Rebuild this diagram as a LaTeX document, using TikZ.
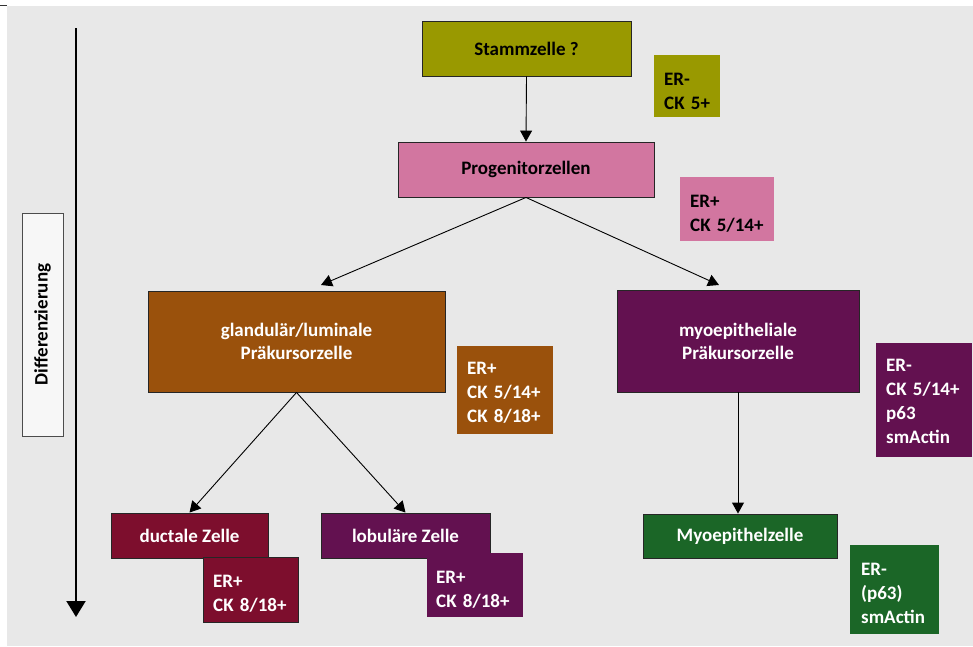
\documentclass[tikz,border=0pt]{standalone}
\usepackage{fontspec}
\setmainfont{Carlito}
\usetikzlibrary{arrows.meta}
\definecolor{bgc}{HTML}{E8E8E8}
\definecolor{olivec}{HTML}{999900}
\definecolor{pinkc}{HTML}{D276A0}
\definecolor{brownc}{HTML}{9A510C}
\definecolor{purplec}{HTML}{631150}
\definecolor{greenc}{HTML}{1B6627}
\definecolor{redc}{HTML}{7D0E2D}
\definecolor{diffc}{HTML}{F7F7F7}
\begin{document}
\begin{tikzpicture}[x=1pt,y=-1pt,
  txt/.style={font=\bfseries\fontsize{19}{23}\selectfont},
  cellbox/.style={txt,draw=black!85,line width=0.9pt,inner sep=0pt,align=center},
  markbox/.style={anchor=north west,inner sep=0pt},
  marktext/.style={font=\bfseries\fontsize{19}{24}\selectfont,anchor=base west,inner sep=0pt,align=left,text width=80pt},
  conn/.style={line width=0.9pt,-{Triangle[width=12pt,length=11pt]}}]
\useasboundingbox (0,0) rectangle (973,646);
\fill[bgc] (7,6) rectangle (973,646);
\draw[black!80,line width=1.2pt] (0,5.5) -- (7,5.5);

% differentiation axis
\node[txt,draw=black!70,line width=0.8pt,fill=diffc,rotate=90,minimum width=223pt,minimum height=41pt,inner sep=0pt] (diff) at (42.5,324.5) {Differenzierung};
\coordinate (a0) at (76,28);
\coordinate (a1) at (76,617);
\draw[line width=2pt,-{Triangle[width=19pt,length=16pt]}] (a0) -- (a1);

% cells
\node[cellbox,fill=olivec,text=black,minimum width=209pt,minimum height=55pt] (stamm) at (526.5,48.5) {Stammzelle ?};
\node[cellbox,fill=pinkc,text=black,minimum width=256pt,minimum height=55pt] (prog) at (526,169.5) {Progenitorzellen};
\node[cellbox,fill=brownc,text=white,minimum width=297pt,minimum height=101pt] (gland) at (296.5,341.5) {glandulär/luminale\\Präkursorzelle};
\node[cellbox,fill=purplec,text=white,minimum width=242pt,minimum height=102pt] (myo) at (738,341) {myoepitheliale\\Präkursorzelle};
\node[cellbox,fill=greenc,text=white,minimum width=194pt,minimum height=44pt] (mep) at (740,536) {Myoepithelzelle};
\node[cellbox,fill=redc,text=white,minimum width=157pt,minimum height=45pt] (duct) at (189.5,535.5) {ductale Zelle};
\node[cellbox,fill=purplec,text=white,minimum width=169pt,minimum height=45pt] (lob) at (405.5,535.5) {lobuläre Zelle};

% marker boxes
\node[markbox,fill=olivec,minimum width=66pt,minimum height=62pt] (m1) at (654,55) {};
\node[marktext,text=black] (m1t) at (664,85) {ER-\\CK 5+};
\node[markbox,fill=pinkc,minimum width=94pt,minimum height=64pt] (m2) at (680,177) {};
\node[marktext,text=black] (m2t) at (690,207) {ER+\\CK 5/14+};
\node[markbox,fill=brownc,minimum width=96pt,minimum height=88pt] (m3) at (457,346) {};
\node[marktext,text=white] (m3t) at (467,374) {ER+\\CK 5/14+\\CK 8/18+};
\node[markbox,fill=purplec,minimum width=96pt,minimum height=114pt] (m4) at (876,343) {};
\node[marktext,text=white] (m4t) at (886,371) {ER-\\CK 5/14+\\p63\\smActin};
\node[markbox,fill=greenc,minimum width=89pt,minimum height=89pt] (m5) at (850,545) {};
\node[marktext,text=white] (m5t) at (861,575) {ER-\\(p63)\\smActin};
\node[markbox,fill=redc,draw=black!85,line width=0.9pt,minimum width=95pt,minimum height=65pt] (m6) at (203,557) {};
\node[marktext,text=white] (m6t) at (213,587) {ER+\\CK 8/18+};
\node[markbox,fill=purplec,minimum width=96pt,minimum height=64pt] (m7) at (427,553) {};
\node[marktext,text=white] (m7t) at (436,583) {ER+\\CK 8/18+};

% connectors
\coordinate (tg) at (321,285);
\coordinate (tm) at (719,285);
\draw[conn] (stamm.south) -- (prog.north);
\draw[conn] (prog.south) -- (tg);
\draw[conn] (prog.south) -- (tm);
\draw[conn] (gland.south) -- (duct.north);
\draw[conn] (gland.south) -- (lob.north);
\draw[conn] (myo.south) -- (myo.south |- mep.north);
\end{tikzpicture}
\end{document}
